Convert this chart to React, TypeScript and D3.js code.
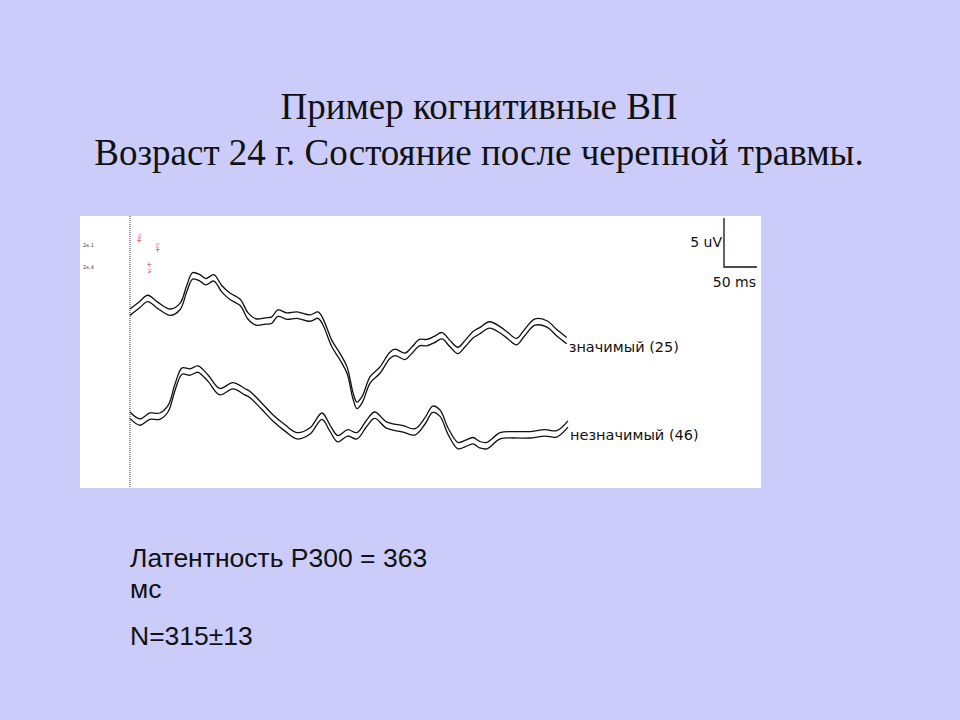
import { useEffect, useRef } from 'react';
import * as d3 from 'd3';

// latency, ms
const sigTimes = [0, 15, 27, 42, 61, 76, 86, 95, 106, 115, 127, 139, 152, 167, 179, 191, 205, 215, 224, 238, 253, 273, 285, 292, 306, 318, 329, 338, 344, 352, 364, 379, 394, 402, 417, 427, 439, 450, 461, 473, 485, 497, 508, 520, 530, 545, 561, 573, 586, 598, 614, 632, 647, 662];
// amplitude, uV (upper edge of the band)
const sigValues = [0, 0.8, 1.4, 0.7, 0, 0.6, 2.4, 3.7, 3.5, 3.1, 3.5, 2.4, 1.6, 1.0, -0.4, -1.0, -0.9, -0.8, -0.1, -0.4, -0.3, -0.6, -0.3, -0.9, -3.2, -4.5, -5.9, -8.5, -9.5, -8.9, -6.9, -5.9, -4.4, -4.1, -4.5, -3.9, -3.1, -3.1, -2.8, -2.4, -3.2, -3.9, -3.2, -2.3, -1.9, -1.3, -1.8, -2.4, -3.0, -2.1, -1.0, -1.2, -2.1, -2.9];

const nonsigTimes = [0, 15, 30, 45, 58, 68, 79, 91, 103, 118, 136, 156, 174, 182, 200, 217, 235, 253, 273, 291, 303, 315, 330, 344, 359, 371, 389, 414, 432, 447, 459, 470, 482, 497, 508, 520, 530, 541, 561, 583, 606, 629, 647, 664];
const nonsigValues = [0, -0.7, -0.1, -0.1, 0.7, 2.8, 4.5, 4.4, 4.7, 3.8, 2.4, 3.0, 2.4, 2.1, 0.9, -0.3, -1.3, -2.1, -1.6, -0.1, -1.3, -2.4, -1.8, -2.1, -0.8, 0, -1.0, -1.4, -1.7, -0.6, 0.6, 0.2, -1.6, -3.1, -2.9, -2.6, -3.0, -3.1, -2.1, -2.0, -2.0, -1.8, -1.9, -0.9];

const traceLabels = ['значимый (25)', 'незначимый (46)'];
const channelLabels = ['2к.1', '2к.4'];

const markerTimes = [14, 42, 29];
const markerValues = [6.9, 6.0, 4.5];
const markerLabels = ['N1', 'P2', 'N2'];

const titleLines = ['Пример когнитивные ВП', 'Возраст 24 г. Состояние после черепной травмы.'];
const noteLines = ['Латентность Р300 = 363', 'мс', 'N=315±13'];

const W = 960;
const H = 720;

export default function App() {
  const svgRef = useRef<SVGSVGElement>(null);

  useEffect(() => {
    if (!svgRef.current) return;
    document.body.style.margin = '0';
    const svg = d3.select(svgRef.current);
    svg.selectAll('*').remove();

    svg.append('rect').attr('width', W).attr('height', H).attr('fill', '#ccccfb');

    // titles
    svg.append('g')
      .selectAll('text')
      .data(titleLines)
      .join('text')
      .attr('x', 479)
      .attr('y', (d, i) => 119 + i * 46)
      .attr('text-anchor', 'middle')
      .style('font-family', '"Liberation Serif", "Times New Roman", serif')
      .style('font-size', '37px')
      .style('fill', '#111')
      .text(d => d);

    // white panel
    const panel = { x: 80, y: 216, w: 681, h: 272 };
    svg.append('rect')
      .attr('x', panel.x).attr('y', panel.y)
      .attr('width', panel.w).attr('height', panel.h)
      .attr('fill', '#ffffff');

    const x = d3.scaleLinear().domain([0, 664]).range([130, 568]);
    // one uV scale for both traces; the second trace sits 10.5 uV lower
    const y = d3.scaleLinear().domain([0, -10.5]).range([309, 412]);
    const offsets = [0, -10.5];
    const labelLevels = [-4.4, -13.4];
    const band = 0.65;

    // stimulus line
    svg.append('line')
      .attr('x1', x(0)).attr('x2', x(0))
      .attr('y1', panel.y).attr('y2', panel.y + panel.h)
      .attr('stroke', '#333')
      .attr('stroke-width', 1)
      .attr('stroke-dasharray', '1,1');

    const series = [
      { t: sigTimes, v: sigValues },
      { t: nonsigTimes, v: nonsigValues },
    ];

    const line = d3.line<[number, number]>()
      .x(d => x(d[0]))
      .y(d => y(d[1]))
      .curve(d3.curveCatmullRom.alpha(0.5));

    series.forEach((s, k) => {
      const upper = s.t.map((t, i) => [t, s.v[i] + offsets[k]] as [number, number]);
      const lower = s.t.map((t, i) => [t, s.v[i] + offsets[k] - band] as [number, number]);
      [upper, lower].forEach(pts => {
        svg.append('path')
          .datum(pts)
          .attr('fill', 'none')
          .attr('stroke', '#111')
          .attr('stroke-width', 1.3)
          .attr('d', line);
      });
      const last = s.t.length - 1;
      svg.append('text')
        .attr('x', x(s.t[last]) + 2)
        .attr('y', y(labelLevels[k]))
        .style('font-family', '"DejaVu Sans", Verdana, sans-serif')
        .style('font-size', '14.5px')
        .style('fill', '#111')
        .text(traceLabels[k]);
    });

    // channel names
    channelLabels.forEach((c, i) => {
      svg.append('text')
        .attr('x', 83).attr('y', 247 + i * 22)
        .style('font-family', '"DejaVu Sans", sans-serif')
        .style('font-size', '5px')
        .style('fill', '#444')
        .text(c);
    });

    // peak markers
    markerTimes.forEach((t, i) => {
      const mx = x(t);
      const my = y(markerValues[i]);
      svg.append('text')
        .attr('x', mx).attr('y', my + 2)
        .attr('text-anchor', 'middle')
        .style('font-family', '"DejaVu Sans", sans-serif')
        .style('font-size', '7px')
        .style('fill', '#c0304a')
        .text('+');
      const ly = i === 2 ? my + 6 : my - 5;
      svg.append('text')
        .attr('transform', `translate(${mx + 1.5},${ly}) rotate(-90)`)
        .attr('text-anchor', 'middle')
        .style('font-family', '"DejaVu Sans", sans-serif')
        .style('font-size', '4px')
        .style('fill', '#c0304a')
        .text(markerLabels[i]);
    });

    // scale bar: 5 uV, 50 ms
    const bx = 724;
    const by = 267;
    const barH = y(0) - y(5);
    const barW = x(50) - x(0);
    svg.append('path')
      .attr('d', `M${bx},${by - barH}V${by}H${bx + barW}`)
      .attr('fill', 'none')
      .attr('stroke', '#111')
      .attr('stroke-width', 1.3);
    svg.append('text')
      .attr('x', bx - 2).attr('y', by - 20)
      .attr('text-anchor', 'end')
      .style('font-family', '"DejaVu Sans", Verdana, sans-serif')
      .style('font-size', '14px')
      .style('fill', '#111')
      .text('5 uV');
    svg.append('text')
      .attr('x', bx + barW - 1).attr('y', by + 20)
      .attr('text-anchor', 'end')
      .style('font-family', '"DejaVu Sans", Verdana, sans-serif')
      .style('font-size', '14px')
      .style('fill', '#111')
      .text('50 ms');

    // notes under the panel
    const noteY = [567, 598, 645];
    svg.append('g')
      .selectAll('text')
      .data(noteLines)
      .join('text')
      .attr('x', 130)
      .attr('y', (d, i) => noteY[i])
      .style('font-family', '"Liberation Sans", Arial, sans-serif')
      .style('font-size', '26.5px')
      .style('fill', '#111')
      .text(d => d);
  }, []);

  return (
    <svg
      ref={svgRef}
      width={W}
      height={H}
      style={{ display: 'block' }}
    />
  );
}
